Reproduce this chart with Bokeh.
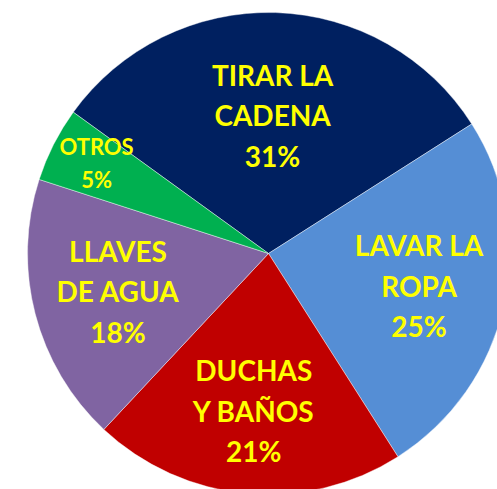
import math
from bokeh.plotting import figure
from bokeh.models import Range1d, ColumnDataSource
from bokeh.core.properties import value
from bokeh.embed import file_html
from bokeh.resources import INLINE

# ---- data ----
categories = ["TIRAR LA CADENA", "LAVAR LA ROPA", "DUCHAS Y BAÑOS", "LLAVES DE AGUA", "OTROS"]
label_lines = [["TIRAR LA", "CADENA"], ["LAVAR LA", "ROPA"], ["DUCHAS", "Y BAÑOS"],
               ["LLAVES", "DE AGUA"], ["OTROS"]]
percent = [31, 25, 21, 18, 5]
colors = ["#002060", "#558ED5", "#C00000", "#8064A2", "#00B050"]

# ---- layout ----
W, H = 497, 489
CX, CY, R = 268, 489 - 253, 241
START_DEG = 144.1
label_r = [0.57, 0.64, 0.66, 0.645, 0.80]
font_px = [28, 28, 28, 28, 22]
pitch = [40.5, 40.5, 40.5, 40.5, 33]
cap = [20, 20, 20, 20, 16]
y_fix = 11

total = sum(percent)
starts, ends = [], []
cum = 0
for v in percent:
    s = START_DEG - cum / total * 360
    e = s - v / total * 360
    starts.append(math.radians(s))
    ends.append(math.radians(e))
    cum += v

p = figure(width=W, height=H, output_backend="svg", toolbar_location=None,
           x_range=Range1d(0, W), y_range=Range1d(0, H), min_border=0)
p.axis.visible = False
p.grid.visible = False
p.outline_line_color = None
p.background_fill_color = "white"
p.border_fill_color = "white"

src = ColumnDataSource(dict(x=[CX] * len(percent), y=[CY] * len(percent),
                            start=starts, end=ends, color=colors, cat=categories))
p.wedge(x="x", y="y", radius=R, start_angle="start", end_angle="end", direction="clock",
        fill_color="color", line_color="white", line_width=0.6, line_alpha=0.7, source=src)

tx, ty, tt, ts = [], [], [], []
for i, v in enumerate(percent):
    mid = (starts[i] + ends[i]) / 2
    r = label_r[i] * R
    bx = CX + r * math.cos(mid)
    by = CY + r * math.sin(mid)
    lines = label_lines[i] + [f"{v}%"]
    n = len(lines)
    for j, line in enumerate(lines):
        tx.append(bx)
        ty.append(by + ((n - 1) / 2 - j) * pitch[i] - cap[i] / 2 + y_fix)
        tt.append(line)
        ts.append(f"{font_px[i]}px")

tsrc = ColumnDataSource(dict(x=tx, y=ty, text=tt, size=ts))
p.text(x="x", y="y", text="text", source=tsrc, text_font=value("Lato"),
       text_font_style="bold", text_font_size="size", text_color="#FFFF00",
       text_align="center", text_baseline="alphabetic")

open("out.html", "w").write(file_html(p, INLINE))
